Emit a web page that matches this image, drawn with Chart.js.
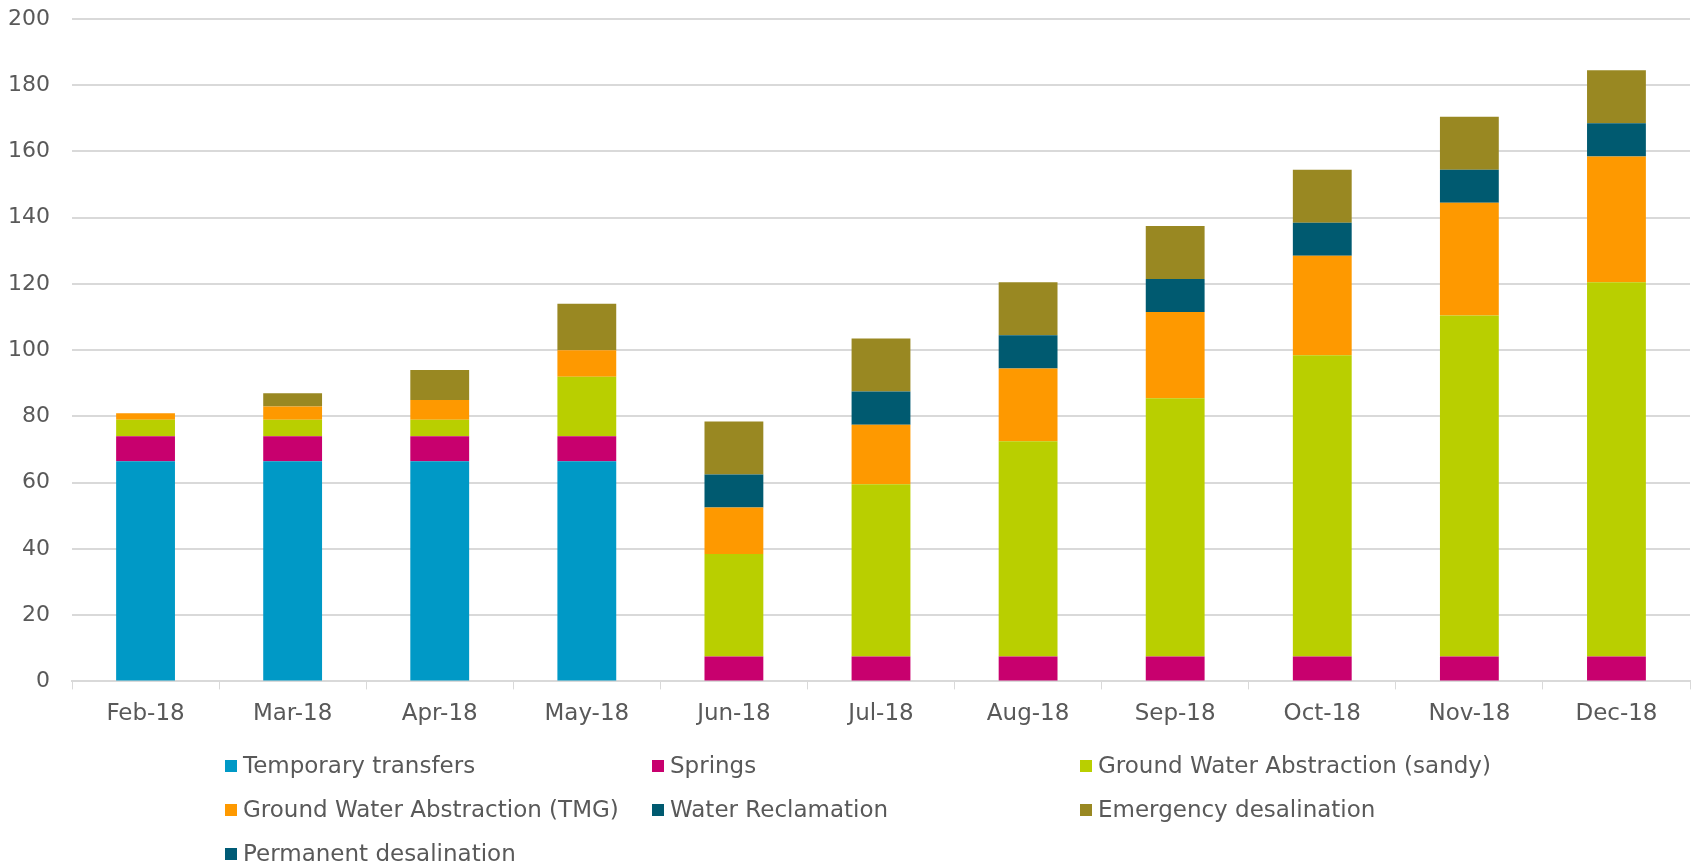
<!DOCTYPE html>
<html>
<head>
<meta charset="utf-8">
<script src="https://cdn.jsdelivr.net/npm/chart.js@4.4.0/dist/chart.umd.min.js"></script>
<style>
  html, body { margin: 0; padding: 0; background: #fff; }
  #wrap { position: relative; width: 1696px; height: 866px; }
  #legend {
    position: absolute; left: 0; top: 0; width: 1696px; height: 866px;
    pointer-events: none;
    font-family: "DejaVu Sans", sans-serif; font-size: 23px; color: #595959;
  }
  .item { position: absolute; white-space: nowrap; line-height: 24px; }
  .box { display: inline-block; width: 12px; height: 12px; margin-right: 6px; vertical-align: 1px; }
</style>
</head>
<body>
<div id="wrap">
  <canvas id="chart" width="1696" height="866"></canvas>
  <div id="legend"></div>
</div>
<script>
// Monthly supply by source
const months = ['Feb-18', 'Mar-18', 'Apr-18', 'May-18', 'Jun-18', 'Jul-18', 'Aug-18', 'Sep-18', 'Oct-18', 'Nov-18', 'Dec-18'];

const temporaryTransfers = [66.5, 66.5, 66.5, 66.5, 0, 0, 0, 0, 0, 0, 0];
const springs            = [7.5, 7.5, 7.5, 7.5, 7.5, 7.5, 7.5, 7.5, 7.5, 7.5, 7.5];
const gwaSandy           = [5, 5, 5, 18, 31, 52, 65, 78, 91, 103, 113];
const gwaTMG             = [2, 4, 6, 8, 14, 18, 22, 26, 30, 34, 38];
const waterReclamation   = [0, 0, 0, 0, 10, 10, 10, 10, 10, 10, 10];
const emergencyDesal     = [0, 4, 9, 14, 16, 16, 16, 16, 16, 16, 16];
const permanentDesal     = [0, 0, 0, 0, 0, 0, 0, 0, 0, 0, 0];

const yTicks = [0, 20, 40, 60, 80, 100, 120, 140, 160, 180, 200];

const series = [
    { label: 'Temporary transfers', data: temporaryTransfers, color: '#0099c6' },
    { label: 'Springs', data: springs, color: '#c8006e' },
    { label: 'Ground Water Abstraction (sandy)', data: gwaSandy, color: '#b9cf00' },
    { label: 'Ground Water Abstraction (TMG)', data: gwaTMG, color: '#fe9900' },
    { label: 'Water Reclamation', data: waterReclamation, color: '#005a70' },
    { label: 'Emergency desalination', data: emergencyDesal, color: '#998822' },
    { label: 'Permanent desalination', data: permanentDesal, color: '#005b76' }
];

// legend slots, Excel-style 3 columns
const legendCols = [225, 652, 1080];
const legendRows = [765, 809, 853];

const font = '"DejaVu Sans", sans-serif';

const ctx = document.getElementById('chart').getContext('2d');
new Chart(ctx, {
    type: 'bar',
    data: {
        labels: months,
        datasets: series.map(s => ({
            label: s.label,
            data: s.data,
            backgroundColor: s.color,
            borderWidth: 0,
            barPercentage: 0.4,
            categoryPercentage: 1
        }))
    },
    options: {
        responsive: false,
        animation: false,
        layout: { padding: { left: 0, right: 6, top: 19, bottom: 127 } },
        scales: {
            x: {
                stacked: true,
                grid: { display: true, drawOnChartArea: false, drawTicks: true, tickLength: 8, color: '#d9d9d9', lineWidth: 1 },
                border: { display: true, color: '#d9d9d9', width: 2 },
                ticks: { color: '#595959', font: { family: font, size: 23 }, padding: 11 }
            },
            y: {
                stacked: true,
                min: 0,
                max: 200,
                afterBuildTicks: axis => { axis.ticks = yTicks.map(v => ({ value: v })); },
                afterFit: axis => { axis.width = 72; axis.paddingTop = 0; axis.paddingBottom = 0; },
                grid: { color: '#d9d9d9', lineWidth: 2, drawTicks: false },
                border: { display: false },
                ticks: { color: '#595959', font: { family: font, size: 22 }, padding: 22 }
            }
        },
        plugins: {
            legend: { display: false },
            tooltip: { enabled: false }
        }
    }
});

// html legend from the series list
const legendEl = document.getElementById('legend');
series.forEach((s, i) => {
    const el = document.createElement('div');
    el.className = 'item';
    el.style.left = legendCols[i % 3] + 'px';
    el.style.top = (legendRows[Math.floor(i / 3)] - 12) + 'px';
    el.innerHTML = '<span class="box" style="background:' + s.color + '"></span>' + s.label;
    legendEl.appendChild(el);
});
</script>
</body>
</html>
